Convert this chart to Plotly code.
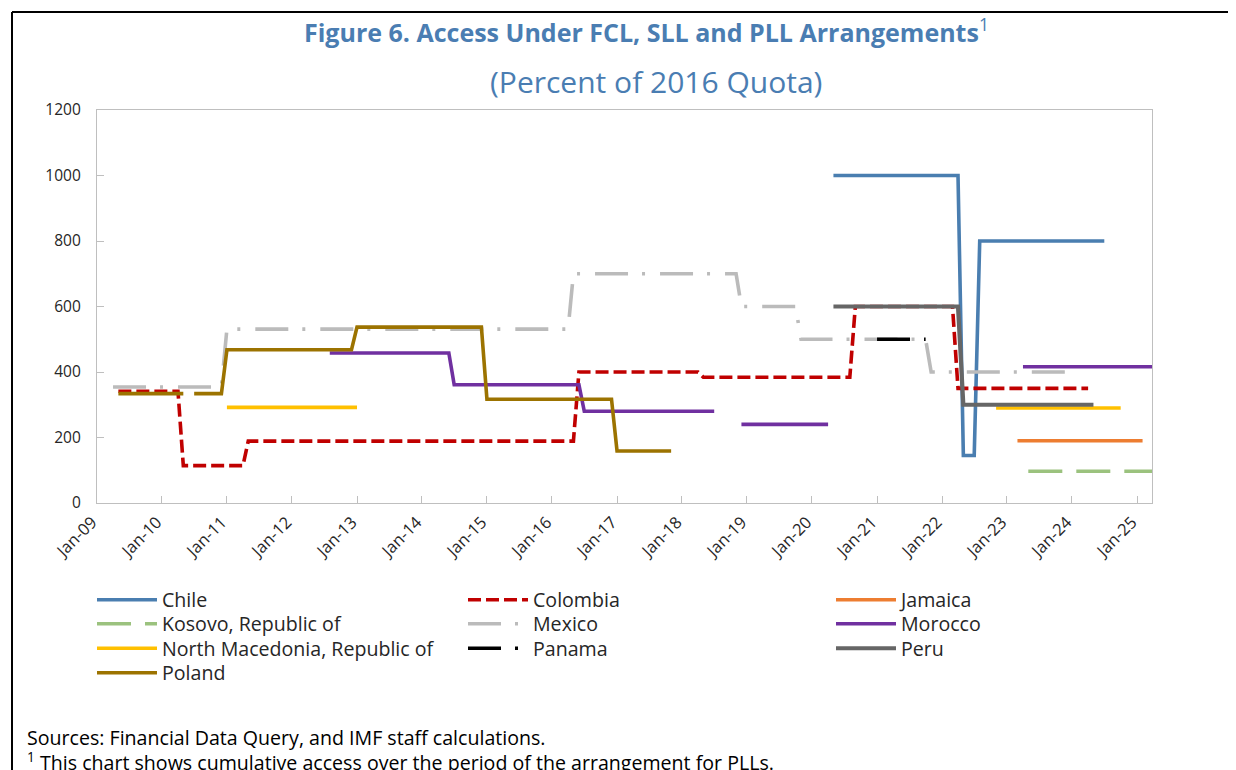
import plotly.graph_objects as go

# ---------------- data (percent of 2016 quota) ----------------
chile_dates = ["2020-05-01", "2022-04-01", "2022-05-01", "2022-07-01", "2022-08-01", "2024-07-01"]
chile_vals = [1000, 1000, 145, 145, 800, 800]

colombia_dates = ["2009-05-01", "2010-04-01", "2010-05-01", "2011-04-01", "2011-05-01", "2016-05-01",
                  "2016-06-01", "2018-04-01", "2018-05-01", "2020-08-01", "2020-09-01", "2022-03-01",
                  "2022-04-01", "2024-04-01"]
colombia_vals = [341, 341, 114, 114, 189, 189, 400, 400, 384, 384, 600, 600, 350, 350]

jamaica_dates = ["2023-03-01", "2025-02-01"]
jamaica_vals = [190, 190]

kosovo_dates = ["2023-05-01", "2025-04-01"]
kosovo_vals = [97, 97]

mexico_dates = ["2009-04-01", "2010-12-01", "2011-01-01", "2016-04-01", "2016-05-01", "2018-11-01",
                "2018-12-01", "2019-10-01", "2019-11-01", "2021-10-01", "2021-11-01", "2023-12-01"]
mexico_vals = [354, 354, 531, 531, 700, 700, 600, 600, 500, 500, 400, 400]

morocco_dates = ["2012-08-01", "2014-06-01", "2014-07-01", "2016-06-01", "2016-07-01", "2018-07-01",
                 "2018-08-01", "2018-12-01", "2020-04-01", "2020-05-01", "2023-04-01", "2025-04-01"]
morocco_vals = [458, 458, 361, 361, 280, 280, None, 240, 240, None, 416, 416]

nmac_dates = ["2011-01-01", "2013-01-01", "2013-02-01", "2022-11-01", "2024-10-01"]
nmac_vals = [292, 292, None, 290, 290]

panama_dates = ["2021-01-01", "2021-10-01"]
panama_vals = [500, 500]

peru_dates = ["2020-05-01", "2022-04-01", "2022-05-01", "2024-05-01"]
peru_vals = [600, 600, 300, 300]

poland_dates = ["2009-05-01", "2010-05-01", "2010-06-01", "2010-07-01", "2010-12-01", "2011-01-01",
                "2012-12-01", "2013-01-01", "2014-12-01", "2015-01-01", "2016-12-01", "2017-01-01",
                "2017-11-01"]
poland_vals = [334, 334, None, 334, 334, 468, 468, 537, 537, 317, 317, 159, 159]

tick_dates = ["%d-01-01" % y for y in range(2009, 2026)]
tick_labels = ["Jan-%02d" % (y % 100) for y in range(2009, 2026)]
y_ticks = [0, 200, 400, 600, 800, 1000, 1200]

# ---------------- styling ----------------
FONT = "Open Sans"
TXT = "#262626"
DASHDOT = "33px,14px,3px,15px"

# page has an 8px body margin: work in reference-picture pixels, shift by OFF
OFF = 8
W, H = 1236 - OFF, 770 - OFF
L, T = 97 - OFF, 110 - OFF
R = W - (1152 - OFF)
B = H - (503 - OFF)
pw, ph = W - L - R, H - T - B


def px(xp):
    return (xp - OFF - L) / pw


def py(yp):
    return (H - B - (yp - OFF)) / ph


COLS = [97, 468, 836]
ROWS = [600, 624, 648.5, 673]

# name, dates, values, colour, dash, width, legend column, legend row
series = [
    ("Chile", chile_dates, chile_vals, "#4A7EB0", "solid", 3.6, 0, 0),
    ("Colombia", colombia_dates, colombia_vals, "#C00000", "13px,5px", 3.6, 1, 0),
    ("Jamaica", jamaica_dates, jamaica_vals, "#ED7D31", "solid", 3.6, 2, 0),
    ("Kosovo, Republic of", kosovo_dates, kosovo_vals, "#9BC27E", "34px,14px", 3.6, 0, 1),
    ("Mexico", mexico_dates, mexico_vals, "#BBBBBB", DASHDOT, 3.6, 1, 1),
    ("Morocco", morocco_dates, morocco_vals, "#7030A0", "solid", 3.6, 2, 1),
    ("North Macedonia, Republic of", nmac_dates, nmac_vals, "#FFC000", "solid", 3.6, 0, 2),
    ("Panama", panama_dates, panama_vals, "#000000", DASHDOT, 3.6, 1, 2),
    ("Peru", peru_dates, peru_vals, "#666666", "solid", 4.2, 2, 2),
    ("Poland", poland_dates, poland_vals, "#9C7300", "solid", 3.6, 0, 3),
]

fig = go.Figure()
legends = {}
for i, (name, d, v, col, dash, wid, c, r) in enumerate(series):
    lg = "legend" if i == 0 else "legend%d" % (i + 1)
    fig.add_trace(go.Scatter(
        x=d, y=v, name=name, mode="lines", connectgaps=False, showlegend=True,
        line=dict(color=col, width=wid, dash=dash),
        legend=lg,
    ))
    legends[lg] = dict(
        x=px(COLS[c] - 5), y=py(ROWS[r]), xanchor="left", yanchor="middle",
        orientation="v", font=dict(family=FONT, size=19.6, color=TXT),
        bgcolor="rgba(0,0,0,0)", itemwidth=60, visible=True,
        itemclick=False, itemdoubleclick=False,
    )

fig.update_layout(
    width=W, height=H, autosize=False, showlegend=True,
    margin=dict(l=L, r=R, t=T, b=B, pad=0),
    paper_bgcolor="white", plot_bgcolor="white",
    font=dict(family=FONT, color=TXT),
    xaxis=dict(
        type="date", range=["2009-01-01", "2025-03-26"],
        tickvals=tick_dates, ticktext=tick_labels, tickangle=-45,
        ticks="inside", ticklen=7, tickcolor="#BFBFBF", tickwidth=1,
        showline=True, linecolor="#BFBFBF", linewidth=1.3, mirror=True,
        showgrid=False, zeroline=False, ticklabelshift=-5, ticklabelstandoff=2,
        tickfont=dict(family=FONT, size=16.5, color=TXT),
    ),
    yaxis=dict(
        range=[0, 1200], tickvals=y_ticks,
        ticks="inside", ticklen=7, tickcolor="#BFBFBF", tickwidth=1,
        showline=True, linecolor="#BFBFBF", linewidth=1.3, mirror=True,
        showgrid=False, zeroline=False, ticklabelstandoff=12,
        tickfont=dict(family=FONT, size=15.5, color=TXT),
    ),
    **legends,
)

TITLE_COLOR = "#4A7DB2"
fig.add_annotation(
    text="<b>Figure 6. Access Under FCL, SLL and PLL Arrangements</b><sup>1</sup>",
    xref="paper", yref="paper", x=px(646), y=py(31), xanchor="center", yanchor="middle",
    showarrow=False, font=dict(family=FONT, size=25, color=TITLE_COLOR),
)
fig.add_annotation(
    text="(Percent of 2016 Quota)",
    xref="paper", yref="paper", x=px(656), y=py(81), xanchor="center", yanchor="middle",
    showarrow=False, font=dict(family=FONT, size=30, color=TITLE_COLOR),
)
fig.add_annotation(
    text="Sources: Financial Data Query, and IMF staff calculations.",
    xref="paper", yref="paper", x=px(25), y=py(737), xanchor="left", yanchor="middle",
    showarrow=False, font=dict(family=FONT, size=19.6, color="#000000"),
)
fig.add_annotation(
    text="<sup>1</sup> This chart shows cumulative access over the period of the arrangement for PLLs.",
    xref="paper", yref="paper", x=px(25), y=py(761), xanchor="left", yanchor="middle",
    showarrow=False, font=dict(family=FONT, size=19.6, color="#000000"),
)

# outer frame of the figure box
fig.add_shape(type="line", xref="paper", yref="paper", x0=px(12), x1=px(1233), y0=py(12), y1=py(12),
              line=dict(color="black", width=2))
fig.add_shape(type="line", xref="paper", yref="paper", x0=px(12), x1=px(12), y0=py(12), y1=py(775),
              line=dict(color="black", width=2))
fig.add_shape(type="line", xref="paper", yref="paper", x0=px(1232), x1=px(1232), y0=py(12), y1=py(775),
              line=dict(color="black", width=2))

fig.write_html("out.html")
